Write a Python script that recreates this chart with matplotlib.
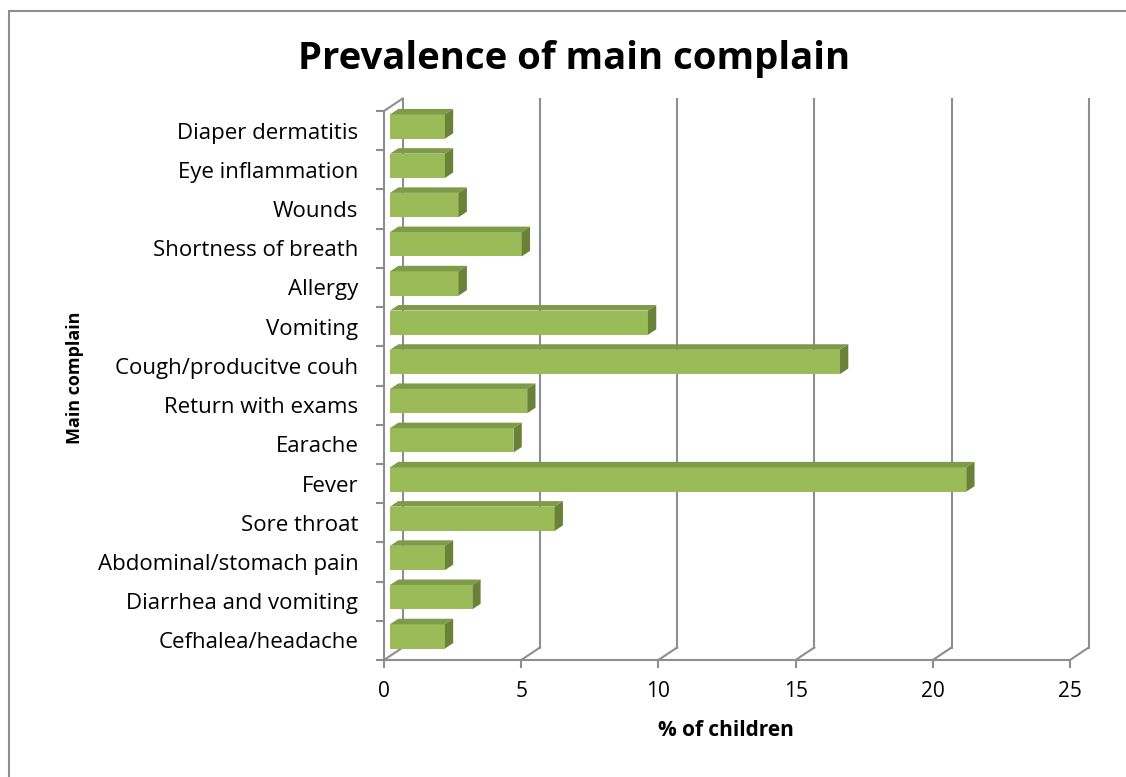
import matplotlib.pyplot as plt
from matplotlib.patches import Polygon, Rectangle
from matplotlib.transforms import Affine2D

plt.rcParams['font.family'] = ['Open Sans', 'DejaVu Sans']

# data (bottom -> top)
categories = ['Cefhalea/headache', 'Diarrhea and vomiting', 'Abdominal/stomach pain',
              'Sore throat', 'Fever', 'Earache', 'Return with exams',
              'Cough/producitve couh', 'Vomiting', 'Allergy', 'Shortness of breath',
              'Wounds', 'Eye inflammation', 'Diaper dermatitis']
values = [2.0, 3.0, 2.0, 6.0, 21.0, 4.5, 5.0, 16.4, 9.4, 2.5, 4.8, 2.5, 2.0, 2.0]
x_ticks = [0, 5, 10, 15, 20, 25]

W, H = 1126, 777
GRID = '#8E8E8E'
FRONT, TOP, SIDE = '#9BBB59', '#7E9B49', '#6A8238'

fig = plt.figure(figsize=(W / 100, H / 100), dpi=100)
ax = fig.add_axes([384 / W, 1 - 660 / H, 686 / W, 549 / H])
ax.set_xlim(0, 25)
ax.set_ylim(-0.5, len(categories) - 0.5)

# pixels -> data units
sx = 686 / 25
sy = 549 / len(categories)
wx, wy = 18.7 / sx, 12.5 / sy      # back wall offset
fx, fy = 6.0 / sx, 4.0 / sy        # bar front face offset
dx, dy = 8.3 / sx, 5.5 / sy        # bar depth

y0, y1 = -0.5, len(categories) - 0.5

# back wall gridlines + floor diagonals
for v in x_ticks:
    ax.plot([v + wx, v + wx], [y0 + wy, y1 + wy], color=GRID, lw=1.5, clip_on=False, zorder=1)
    ax.plot([v, v + wx], [y0, y0 + wy], color=GRID, lw=1.5, clip_on=False, zorder=1)
# left wall top edge
ax.plot([0, wx], [y1, y1 + wy], color=GRID, lw=1.5, clip_on=False, zorder=1)

# bars: front face via barh, then top and side faces
h = 0.62
bars = ax.barh(range(len(categories)), values, height=h, color=FRONT, zorder=3)
shift = Affine2D().translate(fx * sx, fy * sy)
for p in bars:
    p.set_transform(ax.transData + shift)
    p.set_clip_on(False)

for i, v in enumerate(values):
    top = i + h / 2 + fy
    bot = i - h / 2 + fy
    ax.add_patch(Polygon([(fx, top), (v + fx, top), (v + fx + dx, top + dy), (fx + dx, top + dy)],
                         closed=True, facecolor=TOP, edgecolor='none', zorder=3, clip_on=False))
    ax.add_patch(Polygon([(v + fx, top), (v + fx, bot), (v + fx + dx, bot + dy), (v + fx + dx, top + dy)],
                         closed=True, facecolor=SIDE, edgecolor='none', zorder=3, clip_on=False))

# front axes
for s in ['top', 'right']:
    ax.spines[s].set_visible(False)
for s in ['left', 'bottom']:
    ax.spines[s].set_color(GRID)
    ax.spines[s].set_linewidth(1.5)

ax.set_xticks(x_ticks)
ax.set_xticklabels([str(t) for t in x_ticks], fontsize=15)
ax.tick_params(axis='x', length=5.8, width=1.5, color=GRID, pad=9)
ax.set_yticks(range(len(categories)))
ax.set_yticklabels(categories, fontsize=16)
ax.tick_params(axis='y', which='major', length=0, pad=18.5)
ax.set_yticks([i - 0.5 for i in range(len(categories) + 1)], minor=True)
ax.tick_params(axis='y', which='minor', length=5.8, width=1.5, color=GRID)
ax.set_facecolor('none')

fig.text(574 / W, 1 - 59 / H, 'Prevalence of main complain', fontsize=27.5,
         fontweight='bold', ha='center', va='center')
fig.text(726 / W, 1 - 730 / H, '% of children', fontsize=15, fontweight='bold',
         ha='center', va='center')
fig.text(75 / W, 1 - 378 / H, 'Main complain', fontsize=13, fontweight='bold',
         ha='center', va='center', rotation=90)

# chart frame
fig.add_artist(Rectangle((9 / W, -0.1), 1.2, 1 - 11 / H + 0.1, transform=fig.transFigure,
                         fill=False, edgecolor=GRID, lw=1.5))

fig.savefig('out.png', dpi=100)
